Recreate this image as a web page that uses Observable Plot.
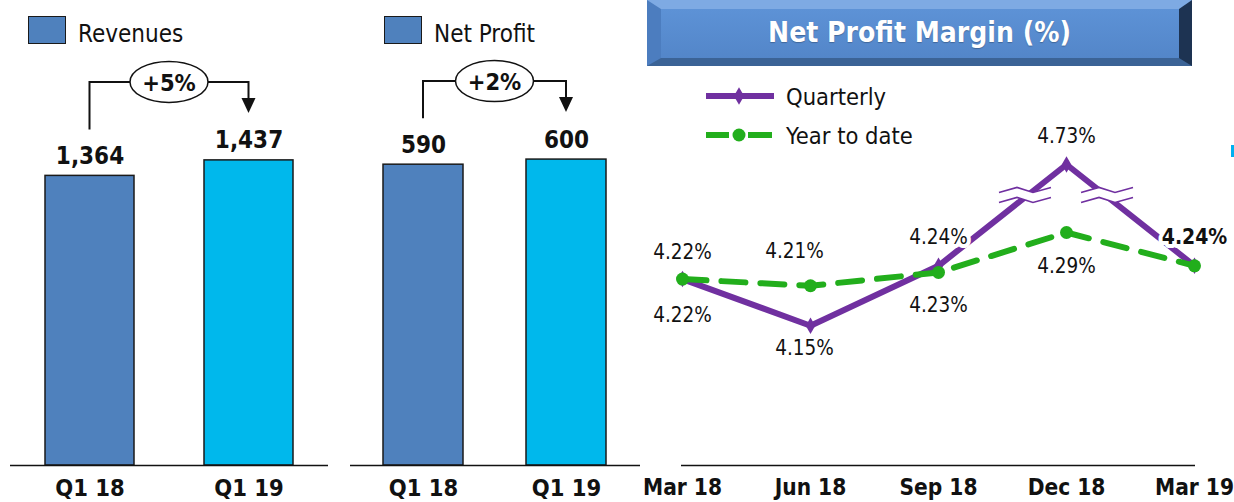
<!DOCTYPE html>
<html><head><meta charset="utf-8">
<script src="https://cdn.jsdelivr.net/npm/d3@7"></script>
<script src="https://cdn.jsdelivr.net/npm/@observablehq/plot@0.6"></script>
<style>
body{margin:0;background:#fff;}
#wrap{position:relative;width:1234px;height:502px;overflow:hidden;font-family:"DejaVu Sans Condensed","DejaVu Sans",sans-serif;color:#111;}
.abs{position:absolute;line-height:1;white-space:nowrap;}
</style></head><body><div id="wrap"></div>
<script>
// ---------- data ----------
const periods = ["Q1 18", "Q1 19"];
const revenues = [1364, 1437];
const netProfit = [590, 600];
const revenueChange = "+5%";
const profitChange = "+2%";
const months = ["Mar 18", "Jun 18", "Sep 18", "Dec 18", "Mar 19"];
const quarterly = [4.22, 4.15, 4.24, 4.73, 4.24];
const yearToDate = [4.22, 4.21, 4.23, 4.29, 4.24];
const seriesNames = ["Quarterly", "Year to date"];

// ---------- styling / placement (not data) ----------
const FONT = "DejaVu Sans Condensed, DejaVu Sans, sans-serif";
const barColors = ["#4F81BD", "#00B8EC"];
const purple = "#7030A0", green = "#22AE1C";
const qLabelDy = [-20, 29, -22, -22, -22];
const qLabelDx = [0, -6, 0, 0, 0];
const qLabelBold = [false, false, false, false, true];
const qLabelHalo = [false, false, true, false, true];
const yLabelDy = [43, -28, 40, 40, null];
const yLabelDx = [0, -16, 0, 0, 0];
const marginAxis = {domain: [3.94, 4.29, 4.73], range: [465, 232, 164]}; // broken axis
const breakValue = 4.52;

const wrap = document.getElementById("wrap");
function addDiv(html, css) {
  const d = document.createElement("div");
  d.className = "abs";
  d.innerHTML = html;
  Object.assign(d.style, css);
  wrap.appendChild(d);
  return d;
}
function place(el, left) {
  el.style.position = "absolute";
  el.style.left = left + "px";
  el.style.top = "0px";
  el.style.background = "transparent";
  el.style.maxWidth = "none";
  wrap.appendChild(el);
}

// ---------- bar panels ----------
function barPanel({values, change, left, width, marginLeft, marginRight, paddingInner, paddingOuter, yMax}) {
  const data = periods.map((p, i) => ({period: p, value: values[i]}));
  const plot = Plot.plot({
    width, height: 502, marginTop: 0, marginBottom: 37, marginLeft, marginRight,
    style: {fontFamily: FONT, color: "#111", background: "transparent", overflow: "visible"},
    x: {domain: periods, paddingInner, paddingOuter, label: null},
    y: {domain: [0, yMax], axis: null},
    color: {domain: periods, range: barColors},
    marks: [
      Plot.barY(data, {x: "period", y: "value", fill: "period", stroke: "#1a1a1a", strokeWidth: 1.5}),
      Plot.ruleY([0], {stroke: "#111", strokeWidth: 1.5}),
      Plot.text(data, {x: "period", y: "value", text: d => d3.format(",")(d.value), dy: -12, lineAnchor: "bottom",
        fontSize: 24, fontWeight: "bold", fill: "#111"}),
      Plot.axisX({tickSize: 0, tickPadding: 14, fontSize: 23.5, fontWeight: "bold", label: null})
    ]
  });
  const sx = plot.scale("x"), sy = plot.scale("y");
  const bw = sx.bandwidth;
  const x1 = sx.apply(periods[0]) + bw / 2, x2 = sx.apply(periods[1]) + bw / 2;
  const yTop = sy.apply(d3.max(values)) - 78;
  const yL = sy.apply(values[0]) - 46;
  const yR = sy.apply(values[1]) - 47;
  const g = d3.select(plot).append("g");
  g.append("path").attr("d", `M${x1},${yL}V${yTop}H${x2}V${yR - 12}`)
    .attr("fill", "none").attr("stroke", "#111").attr("stroke-width", 2);
  g.append("path").attr("d", `M${x2 - 7},${yR - 15}L${x2 + 7},${yR - 15}L${x2},${yR}Z`).attr("fill", "#111");
  const cx = (x1 + x2) / 2;
  g.append("ellipse").attr("cx", cx).attr("cy", yTop).attr("rx", 39).attr("ry", 20.5)
    .attr("fill", "#fff").attr("stroke", "#111").attr("stroke-width", 1.5);
  g.append("text").attr("x", cx).attr("y", yTop + 9).attr("text-anchor", "middle")
    .attr("font-size", 23.5).attr("font-weight", "bold").attr("fill", "#111").text(change);
  place(plot, left);
}

barPanel({values: revenues, change: revenueChange, left: 0, width: 330, marginLeft: 10, marginRight: 2,
  paddingInner: 0.44, paddingOuter: 0.22, yMax: 2190});
barPanel({values: netProfit, change: profitChange, left: 330, width: 310, marginLeft: 20, marginRight: 0,
  paddingInner: 0.4375, paddingOuter: 0.2257, yMax: 912});

// legends for bar panels
const sq = (left) => addDiv("", {left: left + "px", top: "16px", width: "38px", height: "28px", boxSizing: "border-box",
  background: barColors[0], border: "1.5px solid #1a1a1a"});
sq(28); sq(384);
addDiv("Revenues", {left: "78px", top: (42 - 0.846 * 24) + "px", fontSize: "24px"});
addDiv("Net Profit", {left: "434px", top: (42 - 0.846 * 24) + "px", fontSize: "24px"});

// ---------- margin panel ----------
const qData = months.map((m, i) => ({month: m, value: quarterly[i], i}));
const yData = months.map((m, i) => ({month: m, value: yearToDate[i], i}));
const fmt = v => v.toFixed(2) + "%";

const labelMarks = [];
qData.forEach((d, i) => {
  labelMarks.push(Plot.text([d], {x: "month", y: "value", text: t => fmt(t.value), dy: qLabelDy[i], dx: qLabelDx[i],
    lineAnchor: "bottom", fontSize: qLabelBold[i] ? 21 : 20.5, fontWeight: qLabelBold[i] ? "bold" : "normal",
    fill: "#111", ...(qLabelHalo[i] ? {stroke: "white", strokeWidth: 8} : {})}));
});
yData.forEach((d, i) => {
  if (yLabelDy[i] == null) return;
  labelMarks.push(Plot.text([d], {x: "month", y: "value", text: t => fmt(t.value), dy: yLabelDy[i], dx: yLabelDx[i],
    lineAnchor: "bottom", fontSize: 20.5, fill: "#111"}));
});

const p3 = Plot.plot({
  width: 594, height: 502, marginTop: 0, marginBottom: 37, marginLeft: 41, marginRight: 39,
  style: {fontFamily: FONT, color: "#111", background: "transparent", overflow: "visible"},
  x: {type: "point", domain: months, padding: 0, label: null},
  y: {type: "linear", domain: marginAxis.domain, range: marginAxis.range, axis: null},
  marks: [
    Plot.ruleY([marginAxis.domain[0]], {stroke: "#111", strokeWidth: 1.5}),
    Plot.line(qData, {x: "month", y: "value", stroke: purple, strokeWidth: 6}),
    Plot.dot(qData, {x: "month", y: "value", symbol: "diamond", r: 5, fill: purple}),
    Plot.line(yData, {x: "month", y: "value", stroke: green, strokeWidth: 6, strokeDasharray: "24,15"}),
    Plot.dot(yData, {x: "month", y: "value", r: 6.5, fill: green}),
    ...labelMarks,
    Plot.axisX({tickSize: 0, tickPadding: 13.5, fontSize: 22.5, fontWeight: "bold", label: null})
  ]
});
{
  const sx = p3.scale("x"), sy = p3.scale("y");
  const yb = sy.apply(breakValue);
  const g = d3.select(p3).append("g");
  const zig = [[-26, 1], [-8, -4], [8, 1], [26, -4]];
  for (let i = 0; i < months.length - 1; i++) {
    const a = quarterly[i], b = quarterly[i + 1];
    if ((a - breakValue) * (b - breakValue) < 0) {
      const xa = sx.apply(months[i]), xb = sx.apply(months[i + 1]);
      const ya = sy.apply(a), yb2 = sy.apply(b);
      const t = (yb - ya) / (yb2 - ya);
      const cx = xa + t * (xb - xa);
      const up = zig.map(([dx, dy]) => [cx + dx, yb - 5 + dy]);
      const lo = zig.map(([dx, dy]) => [cx + dx, yb + 5 + dy]);
      g.append("path").attr("d", "M" + up.join("L") + "L" + lo.slice().reverse().join("L") + "Z").attr("fill", "#fff");
      [up, lo].forEach(pts => g.append("path").attr("d", "M" + pts.join("L"))
        .attr("fill", "none").attr("stroke", purple).attr("stroke-width", 1.6));
    }
  }
}
place(p3, 640);

// legend for margin panel
const lg = d3.create("svg").attr("width", 80).attr("height", 70)
  .style("position", "absolute").style("left", "700px").style("top", "80px");
lg.append("line").attr("x1", 6).attr("x2", 74).attr("y1", 16).attr("y2", 16).attr("stroke", purple).attr("stroke-width", 6);
lg.append("path").attr("d", d3.symbol(d3.symbolDiamond, 90)()).attr("transform", "translate(39,16)").attr("fill", purple);
lg.append("line").attr("x1", 6).attr("x2", 29).attr("y1", 55).attr("y2", 55).attr("stroke", green).attr("stroke-width", 6);
lg.append("line").attr("x1", 48).attr("x2", 72).attr("y1", 55).attr("y2", 55).attr("stroke", green).attr("stroke-width", 6);
lg.append("circle").attr("cx", 39).attr("cy", 55).attr("r", 6.5).attr("fill", green);
wrap.appendChild(lg.node());
addDiv(seriesNames[0], {left: "786px", top: (106 - 0.846 * 23.5) + "px", fontSize: "23.5px"});
addDiv(seriesNames[1], {left: "786px", top: (145 - 0.846 * 23.5) + "px", fontSize: "23.5px"});

// title box
addDiv("", {left: "647px", top: "0px", width: "545px", height: "66px", boxSizing: "border-box",
  background: "linear-gradient(#5d92d6, #5386c9)",
  borderTop: "9px solid #7eaae3", borderLeft: "14px solid #4c7dbf", borderRight: "13px solid #1d3352",
  borderBottom: "8px solid #3b6396"});
addDiv("Net Profit Margin (%)", {left: "647px", width: "545px", textAlign: "center", top: (43 - 0.846 * 28) + "px",
  fontSize: "28px", fontWeight: "bold", color: "#fff", textShadow: "0 1px 1px rgba(0,0,0,0.25)"});

// cropped edge artefact at far right
addDiv("", {left: "1231px", top: "145px", width: "3px", height: "12px", background: "#00B0F0"});
</script></body></html>
